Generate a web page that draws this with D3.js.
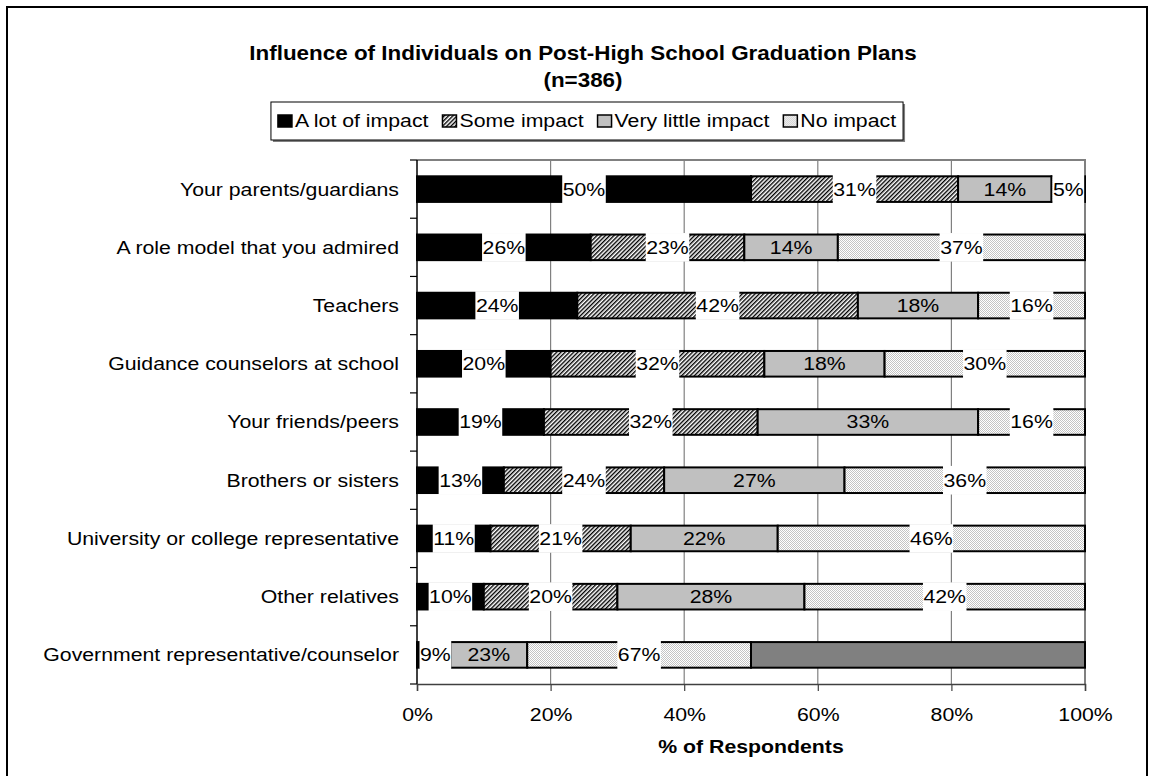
<!DOCTYPE html>
<html>
<head>
<meta charset="utf-8">
<script src="https://cdn.jsdelivr.net/npm/d3@7"></script>
<style>
  body { margin: 0; background: #fff; }
  text { font-family: Arial, "Liberation Sans", sans-serif; fill: #000; }
</style>
</head>
<body>
<svg id="chart" width="1153" height="776"></svg>
<script>
// Survey responses, percent of respondents per row
const categories = [
  "Your parents/guardians",
  "A role model that you admired",
  "Teachers",
  "Guidance counselors at school",
  "Your friends/peers",
  "Brothers or sisters",
  "University or college representative",
  "Other relatives",
  "Government representative/counselor"
];
const aLotOfImpact     = [50, 26, 24, 20, 19, 13, 11, 10, 1];
const someImpact       = [31, 23, 42, 32, 32, 24, 21, 20, 9];
const veryLittleImpact = [14, 14, 18, 18, 33, 27, 22, 28, 23];
const noImpact         = [5, 37, 16, 30, 16, 36, 46, 42, 67];
// extra series carried on the last row only (not in the legend)
const extraShare       = [0, 0, 0, 0, 0, 0, 0, 0, 100];
const xTicks = [0, 0.2, 0.4, 0.6, 0.8, 1];
const seriesNames = ["A lot of impact", "Some impact", "Very little impact", "No impact"];

const rows = categories.map((c, i) => ({
  category: c,
  aLot: aLotOfImpact[i],
  some: someImpact[i],
  little: veryLittleImpact[i],
  none: noImpact[i],
  extra: extraShare[i]
}));

const series = [
  { key: "aLot",   name: seriesNames[0], fill: "#000",        labelBg: true,  legend: true },
  { key: "some",   name: seriesNames[1], fill: "url(#hatch)", labelBg: true,  legend: true },
  { key: "little", name: seriesNames[2], fill: "#c0c0c0",     labelBg: false, legend: true },
  { key: "none",   name: seriesNames[3], fill: "url(#dots)",  labelBg: true,  legend: true },
  { key: "extra",  name: "",             fill: "#808080",     labelBg: false, legend: false }
];

const svg = d3.select("#chart");
const FONT = 18.5;      // glyph height
const SX = 1.15;        // glyphs are drawn slightly wide

// place a text at its own x/y and widen it horizontally about that point
function widen(sel) {
  sel.each(function () {
    const t = d3.select(this);
    const tx = +t.attr("x") || 0, ty = +t.attr("y") || 0;
    t.attr("x", 0).attr("y", 0)
     .attr("transform", `translate(${tx},${ty}) scale(${SX},1)`);
  });
  return sel;
}

// patterns
const defs = svg.append("defs");
const hatch = defs.append("pattern")
  .attr("id", "hatch").attr("patternUnits", "userSpaceOnUse")
  .attr("width", 3).attr("height", 3)
  .attr("patternTransform", "rotate(45)");
hatch.append("rect").attr("width", 3).attr("height", 3).attr("fill", "#fff");
hatch.append("rect").attr("width", 1.4).attr("height", 3).attr("fill", "#000");

const dots = defs.append("pattern")
  .attr("id", "dots").attr("patternUnits", "userSpaceOnUse")
  .attr("width", 2).attr("height", 2);
dots.append("rect").attr("width", 2).attr("height", 2).attr("fill", "#fff");
dots.append("rect").attr("width", 1).attr("height", 1).attr("fill", "#c4c4c4");
dots.append("rect").attr("x", 1).attr("y", 1).attr("width", 1).attr("height", 1).attr("fill", "#c4c4c4");

// outer frame
svg.append("rect")
  .attr("x", 7).attr("y", 7).attr("width", 1140).attr("height", 800)
  .attr("fill", "none").attr("stroke", "#000").attr("stroke-width", 2);

// title
widen(svg.append("text").attr("x", 583).attr("y", 60).attr("text-anchor", "middle")
  .attr("font-weight", "bold").attr("font-size", 19.5)
  .text("Influence of Individuals on Post-High School Graduation Plans"));
widen(svg.append("text").attr("x", 583).attr("y", 87).attr("text-anchor", "middle")
  .attr("font-weight", "bold").attr("font-size", 19.5)
  .text("(n=386)"));

// scales
const plot = { left: 417, right: 1085, top: 160, bottom: 684 };
const x = d3.scaleLinear().domain([0, 1]).range([plot.left, plot.right]);
const y = d3.scaleBand().domain(categories).range([plot.top, plot.bottom])
  .paddingInner(0.56).paddingOuter(0.28);

// gridlines and plot frame (top / right)
svg.append("g").selectAll("line")
  .data(xTicks.filter(t => t > 0 && t < 1))
  .join("line")
  .attr("x1", d => x(d)).attr("x2", d => x(d))
  .attr("y1", plot.top).attr("y2", plot.bottom)
  .attr("stroke", "#808080").attr("stroke-width", 1.2);
svg.append("path")
  .attr("d", `M${plot.left},${plot.top}H${plot.right}V${plot.bottom}`)
  .attr("fill", "none").attr("stroke", "#808080").attr("stroke-width", 2);

// stacked bars, each row normalised to its total
const stack = d3.stack()
  .keys(series.map(s => s.key))
  .offset(d3.stackOffsetExpand);
const stacked = stack(rows);

const barG = svg.append("g");
stacked.forEach((layer, li) => {
  barG.append("g").selectAll("rect")
    .data(layer.filter(d => d[1] - d[0] > 0))
    .join("rect")
    .attr("x", d => x(d[0]))
    .attr("y", d => y(d.data.category))
    .attr("width", d => x(d[1]) - x(d[0]))
    .attr("height", y.bandwidth())
    .attr("fill", series[li].fill)
    .attr("stroke", "#000")
    .attr("stroke-width", 2);
});

// value labels
const labelG = svg.append("g");
stacked.forEach((layer, li) => {
  const s = series[li];
  if (!s.legend) return;
  layer.forEach(d => {
    const v = d.data[s.key];
    if (v < 2) return;
    const cx = x((d[0] + d[1]) / 2);
    const cy = y(d.data.category) + y.bandwidth() / 2;
    const g = labelG.append("g");
    const t = g.append("text")
      .attr("x", cx).attr("y", cy + FONT * 0.35)
      .attr("text-anchor", "middle").attr("font-size", FONT)
      .text(v + "%");
    widen(t);
    if (s.labelBg) {
      const w = t.node().getComputedTextLength() * SX + 1;
      g.insert("rect", "text")
        .attr("x", cx - w / 2).attr("y", cy - y.bandwidth() / 2 - 1.5)
        .attr("width", w).attr("height", y.bandwidth() + 3)
        .attr("fill", "#fff");
    }
  });
});

// y axis: category labels and ticks between rows
const yAxis = svg.append("g")
  .attr("transform", `translate(${plot.left},0)`)
  .call(d3.axisLeft(y).tickSize(0).tickPadding(18));
yAxis.select(".domain").remove();
yAxis.selectAll("text")
  .attr("font-size", FONT).attr("font-family", null)
  .attr("dy", null).attr("y", FONT * 0.35)
  .call(widen);
svg.append("g").selectAll("line")
  .data(d3.range(categories.length + 1))
  .join("line")
  .attr("x1", plot.left - 7).attr("x2", plot.left)
  .attr("y1", i => plot.top + i * y.step())
  .attr("y2", i => plot.top + i * y.step())
  .attr("stroke", "#000").attr("stroke-width", 1.2);
svg.append("line")
  .attr("x1", plot.left).attr("x2", plot.left)
  .attr("y1", plot.top).attr("y2", plot.bottom)
  .attr("stroke", "#000").attr("stroke-width", 1.5);

// x axis
const xAxis = svg.append("g")
  .attr("transform", `translate(0,${plot.bottom})`)
  .call(d3.axisBottom(x).tickValues(xTicks).tickFormat(d3.format(".0%"))
    .tickSize(7).tickPadding(17));
xAxis.select(".domain").attr("stroke", "#404040").attr("stroke-width", 1.5);
xAxis.selectAll(".tick line").attr("stroke", "#404040").attr("stroke-width", 1.2);
xAxis.selectAll("text")
  .attr("font-size", FONT).attr("font-family", null)
  .attr("dy", null).attr("y", 7 + 17 + FONT * 0.71)
  .call(widen);

widen(svg.append("text")
  .attr("x", (plot.left + plot.right) / 2).attr("y", 753)
  .attr("text-anchor", "middle").attr("font-weight", "bold").attr("font-size", FONT)
  .text("% of Respondents"));

// legend
const legend = svg.append("g");
const items = series.filter(s => s.legend);
let lx = 0;
items.forEach(s => {
  const g = legend.append("g").attr("transform", `translate(${lx},0)`);
  g.append("rect").attr("x", 0).attr("y", -6).attr("width", 14).attr("height", 12)
    .attr("fill", s.fill).attr("stroke", "#000").attr("stroke-width", 1.5);
  const t = g.append("text").attr("x", 17).attr("y", FONT * 0.35)
    .attr("font-size", FONT).text(s.name);
  widen(t);
  lx += 17 + t.node().getComputedTextLength() * SX + 14;
});
const legendW = lx - 14;
const legendCx = 587;
const lx0 = legendCx - legendW / 2;
legend.attr("transform", `translate(${lx0},121)`);
const box = { x: lx0 - 7, y: 102, w: legendW + 14, h: 38 };
svg.insert("rect", "g")
  .attr("x", box.x + 2).attr("y", box.y + 2).attr("width", box.w).attr("height", box.h)
  .attr("fill", "#808080");
svg.insert("rect", "g")
  .attr("x", box.x).attr("y", box.y).attr("width", box.w).attr("height", box.h)
  .attr("fill", "#fff").attr("stroke", "#000").attr("stroke-width", 1);
</script>
</body>
</html>
